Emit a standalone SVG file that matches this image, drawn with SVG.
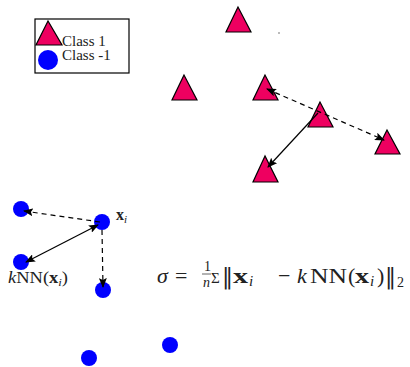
<svg xmlns="http://www.w3.org/2000/svg" width="410" height="367" viewBox="0 0 410 367">
<defs>
<style>
.tri{fill:#EE0060;stroke:#000;stroke-width:1.2;stroke-linejoin:miter}
.dot{fill:#0000FF}
.ln{stroke:#000;stroke-width:1.2;fill:none}
.dash{stroke-dasharray:5,4}
.t{font-family:"Liberation Serif","DejaVu Serif",serif;fill:#222}
.nm{font-family:"DejaVu Serif",serif}
</style>
<marker id="ah" viewBox="0 0 10 8" refX="9" refY="4" markerWidth="10" markerHeight="8" markerUnits="userSpaceOnUse" orient="auto-start-reverse">
<path d="M0,0 L10,4 L0,8 L2,4 z" fill="#000"/>
</marker>
</defs>
<rect width="410" height="367" fill="#fff"/>
<g id="legend">
<rect x="35" y="19" width="94" height="54" fill="#fff" stroke="#000" stroke-width="1.2"/>
<polygon class="tri" points="48,21 36,45 62,45"/>
<circle class="dot" cx="48" cy="60" r="10"/>
<text class="t" x="62" y="46" font-size="15">Class 1</text>
<text class="t" x="62" y="60" font-size="15">Class -1</text>
</g>
<g id="triangles">
<polygon id="t1" class="tri" points="238,7 226,32 251,32"/>
<polygon id="t2" class="tri" points="184,75 172,100 197,100"/>
<polygon id="t3" class="tri" points="265,75 253,100 278,100"/>
<polygon id="t4" class="tri" points="320,102 308,127 333,127"/>
<polygon id="t5" class="tri" points="387,130 375,154 400,154"/>
<polygon id="t6" class="tri" points="265,156 253,182 278,182"/>
<circle cx="279" cy="33" r="0.7" fill="#444"/>
</g>
<g id="dots">
<circle id="d1" class="dot" cx="21" cy="209" r="8"/>
<circle id="xi" class="dot" cx="102" cy="222" r="8"/>
<circle id="knn" class="dot" cx="21" cy="262" r="8"/>
<circle id="d3" class="dot" cx="103" cy="290" r="8"/>
<circle id="d4" class="dot" cx="89" cy="358" r="8"/>
<circle id="d5" class="dot" cx="170" cy="345" r="8"/>
</g>
<g id="connectors">
<line class="ln dash" x1="267" y1="89" x2="384" y2="140" marker-start="url(#ah)" marker-end="url(#ah)"/>
<line class="ln" x1="318" y1="113" x2="268" y2="167" marker-end="url(#ah)"/>
<line class="ln dash" x1="100" y1="222" x2="24" y2="211" marker-end="url(#ah)"/>
<line class="ln" x1="98" y1="225" x2="26" y2="262" marker-start="url(#ah)" marker-end="url(#ah)"/>
<line class="ln dash" x1="102" y1="230" x2="103" y2="287" marker-end="url(#ah)"/>
</g>
<g id="labels">
<text class="t" x="116" y="220" font-size="16"><tspan font-weight="bold">x</tspan><tspan font-style="italic" font-size="11" dy="3">i</tspan></text>
<text class="t" x="8" y="283" font-size="16" textLength="60" lengthAdjust="spacingAndGlyphs"><tspan font-style="italic">k</tspan>NN(<tspan font-weight="bold">x</tspan><tspan font-style="italic" font-size="11" dy="3">i</tspan><tspan dy="-3">)</tspan></text>
</g>
<g id="formula" class="t">
<text x="157" y="283" font-size="22" font-style="italic">σ</text>
<text x="175" y="283" font-size="22">=</text>
<text x="204" y="271" font-size="14">1</text>
<line x1="202" y1="274" x2="211" y2="274" stroke="#222" stroke-width="0.7"/>
<text x="203" y="287" font-size="14" font-style="italic">n</text>
<text x="211" y="283" font-size="15">Σ</text>
<text class="nm" x="222" y="284" font-size="22">‖</text>
<text x="233" y="283" font-size="22" font-weight="bold" textLength="15" lengthAdjust="spacingAndGlyphs">x</text>
<text x="249" y="286" font-size="15" font-style="italic">i</text>
<text x="278" y="283" font-size="22">−</text>
<text x="297" y="283" font-size="22" font-style="italic">k</text>
<text x="310" y="283" font-size="22" textLength="37" lengthAdjust="spacingAndGlyphs">NN</text>
<text x="348" y="283" font-size="22">(</text>
<text x="355" y="283" font-size="22" font-weight="bold" textLength="14" lengthAdjust="spacingAndGlyphs">x</text>
<text x="370" y="286" font-size="15" font-style="italic">i</text>
<text x="377" y="283" font-size="22">)</text>
<text class="nm" x="385" y="284" font-size="22">‖</text>
<text x="397" y="287" font-size="14">2</text>
</g>
</svg>
